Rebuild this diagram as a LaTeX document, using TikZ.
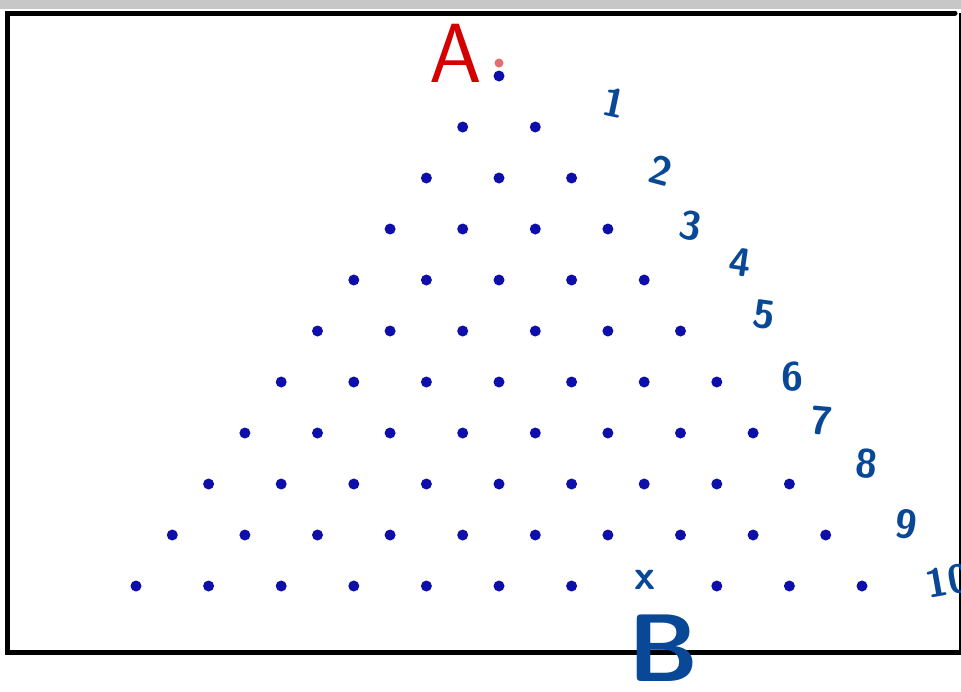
\documentclass[tikz,border=0pt]{standalone}
\usepackage{tikz}
\usetikzlibrary{positioning}
\definecolor{pegblue}{RGB}{14,14,170}
\definecolor{inkblue}{RGB}{8,72,150}
\definecolor{inkred}{RGB}{212,0,0}
\definecolor{startred}{RGB}{226,110,110}

\begin{document}
\begin{tikzpicture}[x=1pt, y=-1pt,
    % --- styles ---
    peg/.style={circle, fill=pegblue, inner sep=0pt, minimum size=11pt},
    startpeg/.style={circle, fill=startred, inner sep=0pt, minimum size=9pt},
    rowlabel/.style={text=inkblue, inner sep=0pt,
      font=\sffamily\bfseries\fontsize{40}{40}\selectfont},
    endlabel/.style={inner sep=0pt, font=\sffamily\fontsize{96}{96}\selectfont},
    frame/.style={line width=5pt, line cap=round},
  ]
  \useasboundingbox (0,0) rectangle (961,691);
  \clip (0,0) rectangle (961,691);

  % ============== FRAME ==============
  \fill[black!22] (0,0) rectangle (961,9);
  \draw[frame] (955,13) -- (7,13) -- (7,652) -- (961,652);
  \draw[line width=1.2pt] (960,13) -- (960,652);

  % ============== PEGS ==============
  \foreach \r in {0,...,9}{
    \foreach \k in {0,...,\r}{
      \node[peg] (p-\r-\k) at ({499+(\k-\r/2)*72.6}, {76+\r*51}) {};
    }
  }
  \foreach \k in {0,...,6,8,9,10}{
    \node[peg] (p-10-\k) at ({499+(\k-5)*72.6}, 586) {};
  }
  \node[startpeg] (start) at (499,63) {};

  % ============== ROW NUMBERS ==============
  \foreach \n/\px/\py/\rot in {1/614/103/-12, 2/661/171/-15, 3/691/226/-10,
      4/740/262/-8, 5/764/315/-8, 6/792/377/0, 7/822/421/-5, 8/867/464/-5,
      9/906/524/-8, 10/948/581/10}{
    \node[rowlabel, rotate=\rot] (n\n) at (\px,\py) {\n};
  }

  % ============== A AND B ==============
  \node[endlabel, text=inkred, font=\sffamily\fontsize{84}{84}\selectfont] (A) at (456,53) {A};
  \node[text=inkblue, inner sep=0pt, font=\sffamily\bfseries\fontsize{42}{42}\selectfont] (mark) at (645,580) {x};
  \node[endlabel, text=inkblue, font=\sffamily\bfseries\fontsize{96}{96}\selectfont] (B) at (664,648) {B};

\end{tikzpicture}
\end{document}
